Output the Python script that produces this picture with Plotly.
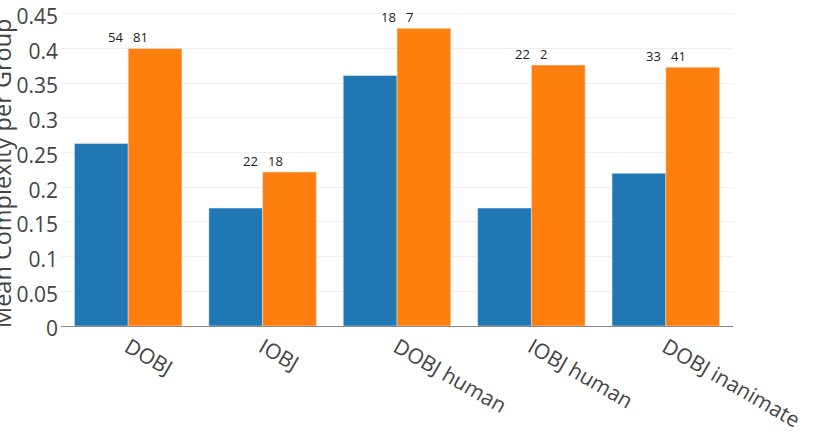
import plotly.graph_objects as go

categories = ["DOBJ", "IOBJ", "DOBJ human", "IOBJ human", "DOBJ inanimate"]
blue_values = [0.263, 0.170, 0.361, 0.170, 0.220]
orange_values = [0.400, 0.222, 0.429, 0.376, 0.373]
blue_counts = [54, 22, 18, 22, 33]
orange_counts = [81, 18, 7, 2, 41]

fig = go.Figure()
fig.add_trace(go.Bar(x=categories, y=blue_values, marker_color="#1f77b4", name="group 1"))
fig.add_trace(go.Bar(x=categories, y=orange_values, marker_color="#ff7f0e", name="group 2"))

for c, b, o, bc, oc in zip(categories, blue_values, orange_values, blue_counts, orange_counts):
    fig.add_annotation(x=c, y=max(b, o), text=f"{bc}&nbsp;&nbsp;&nbsp;{oc}", showarrow=False,
                       yanchor="bottom", yshift=0, font=dict(size=13, color="#222"))

fig.add_annotation(x=0, xref="paper", xanchor="center", xshift=-59,
                   y=0.5, yref="paper", yanchor="middle", yshift=-4,
                   text="Mean Complexity per Group", textangle=-90, showarrow=False,
                   font=dict(size=23.5, color="#444"))

fig.update_layout(
    width=817, height=444,
    barmode="group", bargap=0.2, bargroupgap=0,
    showlegend=False,
    plot_bgcolor="white", paper_bgcolor="white",
    font=dict(family="Open Sans", color="#444"),
    margin=dict(l=61, r=84, t=12, b=118),
    xaxis=dict(tickangle=30, tickfont=dict(size=21), showline=True, linecolor="#888",
               automargin=False),
    yaxis=dict(range=[0, 0.4525], dtick=0.05, tickfont=dict(size=21), gridcolor="#eee",
               zeroline=False, automargin=False, ticklabeloverflow="allow",
               ticklabelstandoff=2, ticklabelshift=3),
)

fig.write_html("out.html")
